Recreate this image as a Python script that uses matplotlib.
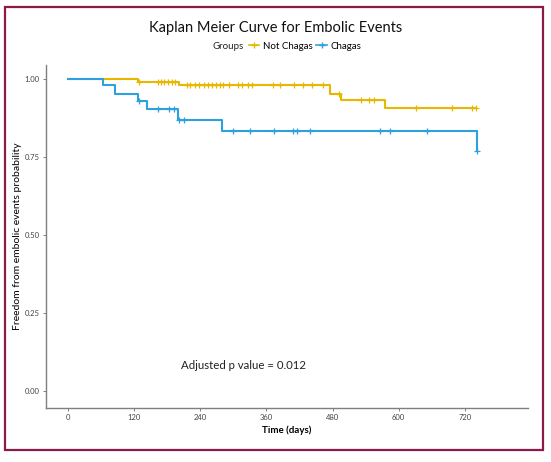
import matplotlib
matplotlib.use("Agg")
import matplotlib.pyplot as plt
from matplotlib.patches import Rectangle
from matplotlib.lines import Line2D

# ── data ───────────────────────────────────────────────────
# step times (days) and survival after each step
nc_times = [0, 127, 202, 476, 496, 575]
nc_surv = [1.000, 0.991, 0.980, 0.954, 0.933, 0.909]
nc_end = 741
nc_censor = [128, 163, 169, 175, 181, 188, 195, 216, 222, 230, 237, 246, 254,
             261, 269, 275, 282, 293, 309, 316, 327, 334, 372, 385, 410, 427,
             443, 462, 491, 532, 546, 555, 632, 696, 734, 741]

ch_times = [0, 64, 85, 127, 144, 199, 279, 742]
ch_surv = [1.000, 0.981, 0.954, 0.930, 0.903, 0.869, 0.833, 0.769]
ch_end = 742
ch_censor = [129, 164, 184, 193, 202, 210, 299, 331, 373, 408, 415, 439,
             566, 584, 652, 742]

x_ticks = [0, 120, 240, 360, 480, 600, 720]
y_ticks = [0.00, 0.25, 0.50, 0.75, 1.00]

YELLOW = "#E7B800"
BLUE = "#2E9FDF"
GREY = "#7f7f7f"

plt.rcParams["font.family"] = ["Lato", "DejaVu Sans"]


def surv_at(t, times, surv):
    s = surv[0]
    for tt, ss in zip(times, surv):
        if tt <= t:
            s = ss
    return s


fig = plt.figure(figsize=(5.51, 4.62), dpi=100)
ax = fig.add_axes([0.0835, 0.117, 0.875, 0.742])

for times, surv, end, cens, col in [
    (nc_times, nc_surv, nc_end, nc_censor, YELLOW),
    (ch_times, ch_surv, ch_end, ch_censor, BLUE),
]:
    xs = list(times) + [end]
    ys = list(surv) + [surv[-1]]
    ax.step(xs, ys, where="post", color=col, lw=1.5, zorder=3)
    cy = [surv_at(c, times, surv) for c in cens]
    ax.plot(cens, cy, ls="none", marker="+", color=col, ms=5, mew=0.9, zorder=4)

ax.set_xlim(-40, 835)
ax.set_ylim(-0.055, 1.045)
ax.set_xticks(x_ticks)
ax.set_xticklabels([str(v) for v in x_ticks])
ax.set_yticks(y_ticks)
ax.set_yticklabels([f"{v:.2f}" for v in y_ticks])

for side in ["top", "right"]:
    ax.spines[side].set_visible(False)
for side in ["left", "bottom"]:
    ax.spines[side].set_color(GREY)
    ax.spines[side].set_linewidth(1.0)
ax.tick_params(axis="both", colors=GREY, labelcolor="#444444", labelsize=5.5,
               length=2.5, width=0.7, pad=2)

ax.set_xlabel("Time (days)", fontsize=7, fontweight="bold", labelpad=3)
ax.set_ylabel("Freedom from embolic events probability", fontsize=7.5, labelpad=2)

ax.text(319, 0.08, "Adjusted p value = 0.012", fontsize=8.2, ha="center",
        va="center", color="#222222")

fig.text(0.501, 0.94, "Kaplan Meier Curve for Embolic Events", fontsize=10.5,
         ha="center", va="center", color="#111111")

# legend: "Groups" title followed by the two entries on one line
fig.text(0.443, 0.9, "Groups", fontsize=7, ha="right", va="center",
         color="#222222")
handles = [Line2D([0], [0], color=YELLOW, lw=1.2, marker="+", ms=5),
           Line2D([0], [0], color=BLUE, lw=1.2, marker="+", ms=5)]
fig.legend(handles, ["Not Chagas", "Chagas"], loc="center left",
           bbox_to_anchor=(0.451, 0.9), ncol=2, frameon=False, fontsize=7,
           handlelength=1.1, handletextpad=0.35, columnspacing=0.4,
           borderpad=0, borderaxespad=0)

fig.patches.append(Rectangle((5 / 551, 1 - 450 / 462), 538 / 551, 443 / 462,
                             transform=fig.transFigure, fill=False,
                             edgecolor="#8B1A48", lw=1.6))

fig.savefig("out.png", dpi=100)
